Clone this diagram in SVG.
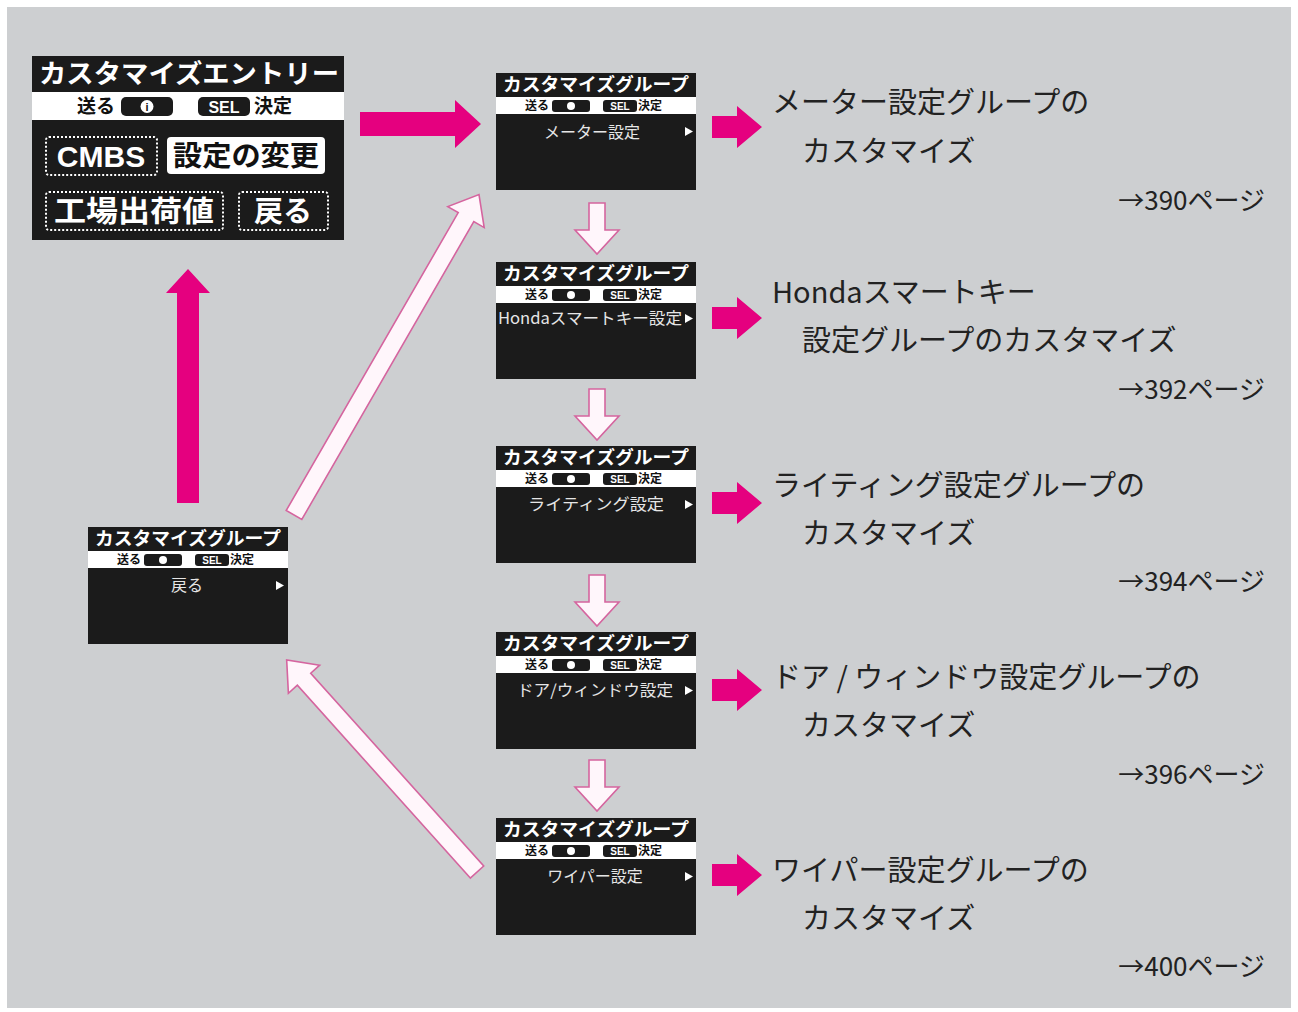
<svg xmlns="http://www.w3.org/2000/svg" width="1298" height="1012" viewBox="0 0 1298 1012">
<defs>
<style>
.scr{fill:#1b1b1b}
.bar{fill:#ffffff}
.ttl{fill:#ffffff;font-family:"Noto Sans CJK JP",sans-serif;font-weight:bold;font-size:18px;text-anchor:middle}
.sub{fill:#111;font-family:"Noto Sans CJK JP",sans-serif;font-weight:bold;font-size:12px}
.pill{fill:#1b1b1b}
.sel{fill:#fff;font-family:"Liberation Sans",sans-serif;font-weight:bold;font-size:10px;text-anchor:middle}
.menu{fill:#e6e6e6;font-family:"Noto Sans CJK JP",sans-serif;font-size:16px;text-anchor:middle}
.tri{fill:#ffffff}
.lbl{fill:#222;font-family:"Noto Sans CJK JP",sans-serif;font-size:29px}
.pg{fill:#222;font-family:"Noto Sans CJK JP",sans-serif;font-size:26px;text-anchor:end}
.mag{fill:#e5007f}
.hol{fill:#fff6fb;stroke:#d5659f;stroke-width:1.6;stroke-linejoin:miter}
.dot{fill:none;stroke:#ffffff;stroke-width:2;stroke-dasharray:2 2}
.big{fill:#fff;font-family:"Noto Sans CJK JP",sans-serif;font-weight:bold;font-size:29px;text-anchor:middle}
</style>
<path id="rarrow" d="M0,-11 H25 V-21 L50,0 L25,21 V11 H0 Z"/>
<path id="darrow" d="M-8,0 V27 H-22 L0,51 L22,27 H8 V0 Z"/>
<g id="hdr">
<rect class="scr" x="0" y="0" width="200" height="117"/>
<rect class="bar" x="0" y="24" width="200" height="17"/>
<text class="ttl" x="100" y="18" textLength="186" lengthAdjust="spacingAndGlyphs">カスタマイズグループ</text>
<text class="sub" x="29" y="37">送る</text>
<rect class="pill" x="56" y="27" width="38" height="12" rx="3"/>
<circle cx="75" cy="33" r="4" fill="#fff"/>
<rect class="pill" x="107" y="27" width="34" height="12" rx="3"/>
<text class="sel" x="124" y="37">SEL</text>
<text class="sub" x="142" y="37">決定</text>
</g>
</defs>
<rect x="0" y="0" width="1298" height="1012" fill="#ffffff"/>
<rect x="7" y="7" width="1284" height="1001" fill="#cdcfd1"/>

<g id="entry">
<rect class="scr" x="32" y="56" width="312" height="184"/>
<rect class="bar" x="32" y="92" width="312" height="28"/>
<text x="189" y="83" fill="#fff" font-family="Noto Sans CJK JP,sans-serif" font-weight="bold" font-size="26" text-anchor="middle" textLength="300" lengthAdjust="spacingAndGlyphs">カスタマイズエントリー</text>
<text x="77" y="113" fill="#111" font-family="Noto Sans CJK JP,sans-serif" font-weight="bold" font-size="19">送る</text>
<rect class="pill" x="121" y="97" width="52" height="19" rx="5"/>
<circle cx="147" cy="106.5" r="6.5" fill="#fff"/>
<text x="147" y="111" fill="#111" font-family="Liberation Sans,sans-serif" font-weight="bold" font-size="11" text-anchor="middle">i</text>
<rect class="pill" x="198" y="97" width="52" height="19" rx="5"/>
<text x="224" y="113" fill="#fff" font-family="Liberation Sans,sans-serif" font-weight="bold" font-size="16" text-anchor="middle">SEL</text>
<text x="254" y="113" fill="#111" font-family="Noto Sans CJK JP,sans-serif" font-weight="bold" font-size="19">決定</text>
<rect class="dot" x="46" y="137" width="111" height="38" rx="3"/>
<text x="101" y="167" fill="#fff" font-family="Liberation Sans,sans-serif" font-weight="bold" font-size="30" text-anchor="middle">CMBS</text>
<rect x="167" y="137" width="158" height="37" rx="4" fill="#ffffff"/>
<text x="246" y="166" fill="#111" font-family="Noto Sans CJK JP,sans-serif" font-weight="bold" font-size="28" text-anchor="middle" textLength="146" lengthAdjust="spacingAndGlyphs">設定の変更</text>
<rect class="dot" x="46" y="192" width="177" height="38" rx="3"/>
<text class="big" x="134" y="222" textLength="160" lengthAdjust="spacingAndGlyphs">工場出荷値</text>
<rect class="dot" x="239" y="192" width="89" height="38" rx="3"/>
<text class="big" x="283" y="222">戻る</text>
</g>

<g id="group1" transform="translate(496,73)">
<use href="#hdr"/>
<text class="menu" x="96" y="65">メーター設定</text>
<polygon class="tri" points="189,54 197,58.5 189,63"/>
</g>
<g id="group2" transform="translate(496,262)">
<use href="#hdr"/>
<text class="menu" x="94" y="62" textLength="184" lengthAdjust="spacingAndGlyphs">Hondaスマートキー設定</text>
<polygon class="tri" points="189,52 197,56.5 189,61"/>
</g>
<g id="group3" transform="translate(496,446)">
<use href="#hdr"/>
<text class="menu" x="100" y="64" textLength="136" lengthAdjust="spacingAndGlyphs">ライティング設定</text>
<polygon class="tri" points="189,54 197,58.5 189,63"/>
</g>
<g id="group4" transform="translate(496,632)">
<use href="#hdr"/>
<text class="menu" x="99" y="64" textLength="156" lengthAdjust="spacingAndGlyphs">ドア/ウィンドウ設定</text>
<polygon class="tri" points="189,54 197,58.5 189,63"/>
</g>
<g id="group5" transform="translate(496,818)">
<use href="#hdr"/>
<text class="menu" x="99" y="64">ワイパー設定</text>
<polygon class="tri" points="189,54 197,58.5 189,63"/>
</g>
<g id="groupBack" transform="translate(88,527)">
<use href="#hdr"/>
<text class="menu" x="99" y="64">戻る</text>
<polygon class="tri" points="188,54 196,58.5 188,63"/>
</g>

<g id="label1">
<text class="lbl" x="772" y="113">メーター設定グループの</text>
<text class="lbl" x="802" y="162">カスタマイズ</text>
<text class="pg" x="1265" y="210">→390ページ</text>
</g>
<g id="label2">
<text class="lbl" x="772" y="303">Hondaスマートキー</text>
<text class="lbl" x="802" y="351">設定グループのカスタマイズ</text>
<text class="pg" x="1265" y="399">→392ページ</text>
</g>
<g id="label3">
<text class="lbl" x="772" y="496">ライティング設定グループの</text>
<text class="lbl" x="802" y="544">カスタマイズ</text>
<text class="pg" x="1265" y="591">→394ページ</text>
</g>
<g id="label4">
<text class="lbl" x="772" y="688">ドア / ウィンドウ設定グループの</text>
<text class="lbl" x="802" y="736">カスタマイズ</text>
<text class="pg" x="1265" y="784">→396ページ</text>
</g>
<g id="label5">
<text class="lbl" x="772" y="881">ワイパー設定グループの</text>
<text class="lbl" x="802" y="929">カスタマイズ</text>
<text class="pg" x="1265" y="976">→400ページ</text>
</g>

<g id="connectors">
<path class="mag" d="M360,112 H455 V100 L481,124 L455,148 V136 H360 Z"/>
<path class="mag" d="M177,503 V293 H166 L188,269 L210,293 H199 V503 Z"/>
<use class="mag" href="#rarrow" x="712" y="127"/>
<use class="mag" href="#rarrow" x="712" y="318"/>
<use class="mag" href="#rarrow" x="712" y="503"/>
<use class="mag" href="#rarrow" x="712" y="690"/>
<use class="mag" href="#rarrow" x="712" y="875"/>
<use class="hol" href="#darrow" x="597" y="203"/>
<use class="hol" href="#darrow" x="597" y="389"/>
<use class="hol" href="#darrow" x="597" y="575"/>
<use class="hol" href="#darrow" x="597" y="760"/>
<path class="hol" transform="translate(294,515) rotate(-60)" d="M0,-9 H344 V-21 L370,0 L344,21 V9 H0 Z"/>
<path class="hol" transform="translate(477,872) rotate(-131.9)" d="M0,-9 H259 V-21 L285,0 L259,21 V9 H0 Z"/>
</g>
</svg>
